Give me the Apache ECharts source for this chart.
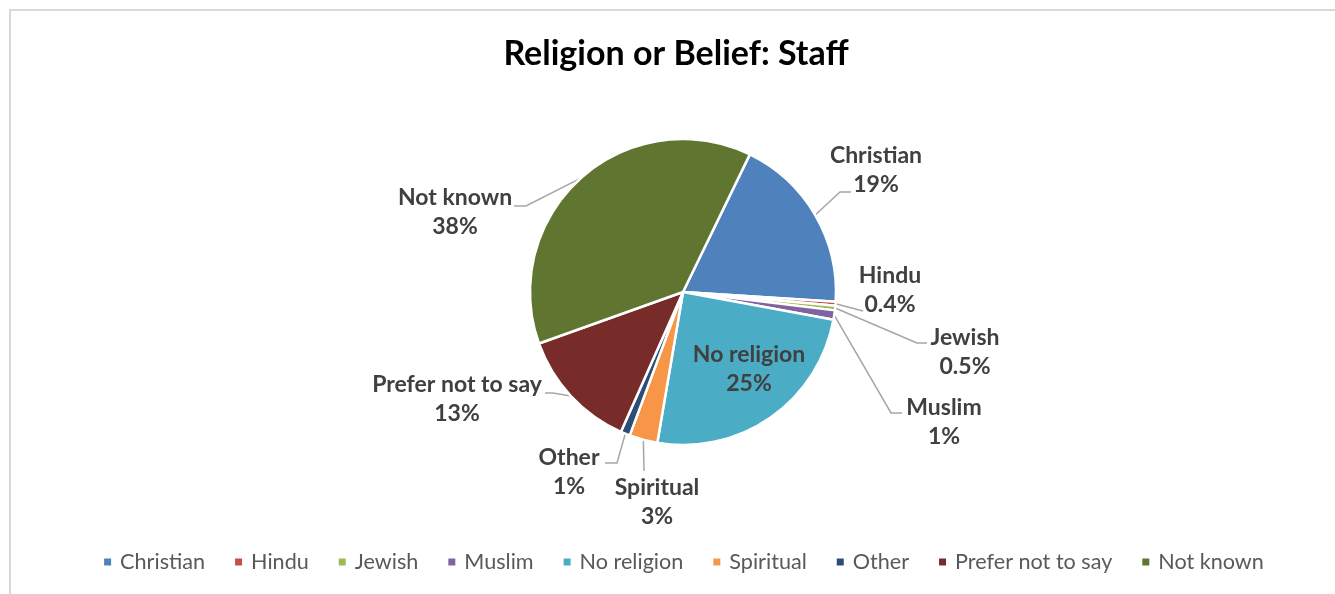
<!DOCTYPE html>
<html>
<head>
<meta charset="utf-8">
<script src="https://cdn.jsdelivr.net/npm/echarts@6/dist/echarts.min.js"></script>
<style>
  html, body { margin: 0; padding: 0; background: #fff; overflow: hidden; }
  #frame {
    position: absolute; left: 9px; top: 9px;
    width: 1344px; height: 600px;
    border-left: 2px solid #d9d9d9; border-top: 2px solid #d9d9d9;
  }
  #chart { width: 1344px; height: 600px; }
</style>
</head>
<body>
<div id="frame"><div id="chart"></div></div>
<script>
// Staff religion or belief breakdown (percent of staff)
const categories = ['Christian', 'Hindu', 'Jewish', 'Muslim', 'No religion', 'Spiritual', 'Other', 'Prefer not to say', 'Not known'];
const percentages = [19, 0.4, 0.5, 1, 25, 3, 1, 13, 38];
const sliceColors = ['#4F81BD', '#C0504D', '#9BBB59', '#8064A2', '#4BACC6', '#F79646', '#2C4D75', '#772C2A', '#5F7530'];

// Where each two-line label sits, and the bend points of its leader line
// (chart pixel coordinates). The leader always starts on the slice edge.
const labelPlacement = {
  'Christian':         { at: [865, 159], bends: [[829, 181], [840, 181]] },
  'Hindu':             { at: [879, 279], bends: [[852, 300]] },
  'Jewish':            { at: [954, 341], bends: [[906, 332], [916, 332]] },
  'Muslim':            { at: [933, 411], bends: [[880, 402], [891, 402]] },
  'No religion':       { at: [738, 358], bends: null },
  'Spiritual':         { at: [646, 491], bends: [[633, 460]] },
  'Other':             { at: [558, 461], bends: [[606, 452], [594, 452]] },
  'Prefer not to say': { at: [446, 388], bends: [[542, 382], [534, 382]] },
  'Not known':         { at: [444, 201], bends: [[515, 195], [503, 195]] }
};

const FONT = 'Lato, "Open Sans", sans-serif';

const pieData = categories.map((name, i) => ({
  name: name,
  value: percentages[i],
  itemStyle: { color: sliceColors[i] },
  labelLine: { show: labelPlacement[name].bends !== null }
}));

const chart = echarts.init(document.getElementById('chart'), null, { renderer: 'canvas' });

chart.setOption({
  backgroundColor: '#ffffff',
  animation: false,
  title: {
    text: 'Religion or Belief: Staff',
    left: 660,
    top: 21,
    textAlign: 'center',
    textStyle: { fontFamily: FONT, fontSize: 34, fontWeight: 'bold', color: '#000000' }
  },
  legend: {
    data: categories,
    left: 'center',
    top: 535,
    icon: 'rect',
    itemWidth: 9,
    itemHeight: 9,
    itemGap: 28,
    textStyle: { fontFamily: FONT, fontSize: 21.6, color: '#595959', padding: [0, 0, 0, 3] }
  },
  series: [{
    type: 'pie',
    center: [672, 281],
    radius: 153,
    startAngle: 64.1,
    clockwise: true,
    avoidLabelOverlap: false,
    itemStyle: { borderColor: '#ffffff', borderWidth: 2.5 },
    label: {
      show: true,
      position: 'outside',
      formatter: p => p.name + '\n' + p.value + '%',
      fontFamily: FONT,
      fontSize: 23,
      fontWeight: 'bold',
      lineHeight: 29,
      color: '#404040',
      align: 'center'
    },
    labelLine: {
      show: true,
      length: 10,
      length2: 10,
      lineStyle: { color: '#a6a6a6', width: 1.5 }
    },
    emphasis: { disabled: true },
    labelLayout: function (params) {
      const name = categories[params.dataIndex];
      const place = labelPlacement[name];
      const layout = {
        x: place.at[0],
        y: place.at[1],
        align: 'center',
        verticalAlign: 'middle'
      };
      if (place.bends && params.labelLinePoints) {
        const start = params.labelLinePoints[0];
        const pts = [[start[0], start[1]]].concat(place.bends);
        while (pts.length < 3) pts.push(pts[pts.length - 1]);
        layout.labelLinePoints = pts;
      }
      return layout;
    },
    data: pieData
  }]
});
</script>
</body>
</html>
